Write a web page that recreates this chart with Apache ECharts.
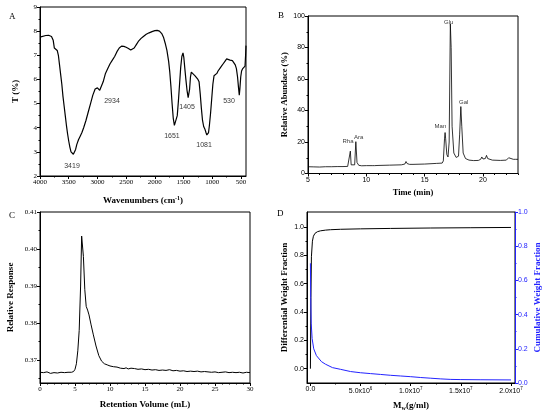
<!DOCTYPE html>
<html lang="en">
<head>
<meta charset="UTF-8">
<title>Polysaccharide characterisation</title>
<style>
  html, body { margin: 0; padding: 0; background: #fff; }
  #main { width: 550px; height: 417px; }
</style>
</head>
<body>
<div id="main"></div>
<script src="https://cdn.jsdelivr.net/npm/echarts@6/dist/echarts.min.js"></script>
<script>
// ---- A: FT-IR spectrum (wavenumber, T%)
let irData = [
  [4000,7.75],[3980,7.8],[3900,7.82],[3850,7.83],[3800,7.78],[3770,7.62],[3750,7.3],[3720,7.25],[3700,7.2],
  [3680,7.0],[3660,6.6],[3640,6.2],[3620,5.8],[3600,5.3],[3580,4.9],[3560,4.5],[3540,4.1],[3520,3.75],
  [3500,3.45],[3480,3.2],[3460,3.0],[3440,2.92],[3419,2.9],[3400,2.95],[3380,3.1],[3360,3.3],[3330,3.5],
  [3300,3.65],[3270,3.8],[3240,4.0],[3200,4.3],[3160,4.65],[3120,5.0],[3080,5.35],[3040,5.6],[3000,5.65],
  [2960,5.55],[2934,5.58],[2900,5.9],[2860,6.25],[2820,6.45],[2780,6.65],[2740,6.8],[2700,6.95],[2660,7.15],
  [2620,7.3],[2580,7.38],[2540,7.37],[2500,7.33],[2460,7.28],[2420,7.22],[2390,7.22],[2360,7.3],[2320,7.45],
  [2280,7.6],[2240,7.7],[2200,7.78],[2150,7.87],[2100,7.93],[2050,7.98],[2000,8.02],[1960,8.03],[1920,8.0],
  [1880,7.9],[1850,7.75],[1820,7.5],[1790,7.2],[1760,6.75],[1740,6.3],[1720,5.7],[1700,5.0],[1680,4.4],
  [1660,4.1],[1651,4.05],[1630,4.15],[1610,4.5],[1590,5.1],[1570,5.8],[1550,6.5],[1530,6.95],[1510,7.1],
  [1495,6.9],[1480,6.5],[1460,6.0],[1440,5.55],[1420,5.25],[1405,5.2],[1395,5.6],[1380,6.1],[1365,6.3],
  [1340,6.25],[1300,6.15],[1270,6.1],[1250,6.0],[1230,5.9],[1210,5.4],[1190,4.8],[1170,4.3],[1150,4.05],
  [1130,3.95],[1110,3.8],[1095,3.7],[1081,3.65],[1065,3.8],[1050,4.1],[1030,4.6],[1010,5.2],[990,5.8],
  [970,6.15],[950,6.22],[920,6.25],[900,6.35],[870,6.45],[840,6.55],[810,6.65],[780,6.75],[750,6.85],
  [720,6.82],[690,6.8],[650,6.78],[620,6.72],[600,6.6],[580,6.45],[560,6.1],[545,5.7],[530,5.35],
  [520,5.6],[505,6.1],[490,6.35],[470,6.45],[450,6.5],[430,6.55],[420,7.0],[413,7.4]
];
let irLabels = [[3443,2.41,'3419'],[2746,5.1,'2934'],[1702,3.66,'1651'],[1440,4.86,'1405'],[1144,3.28,'1081'],[709,5.1,'530']];
let irXTicks = [4000,3500,3000,2500,2000,1500,1000,500];
let irXMinor = [3750,3250,2750,2250,1750,1250,750];
let irYTicks = [2,3,4,5,6,7,8,9];
let irYMinor = [2.5,3.5,4.5,5.5,6.5,7.5,8.5];

// ---- B: GC chromatogram (time min, relative abundance %)
let gcData = [
  [5,4.3],[5.5,4.2],[6,4.1],[6.5,4.3],[7,4.3],[7.5,4.4],[8,4.4],[8.4,4.5],[8.55,5],[8.63,14.2],[8.7,5.5],
  [8.8,4.8],[9.0,5.5],[9.1,20.2],[9.2,7],[9.35,5.2],[9.6,4.9],[10,5.0],[10.5,5.0],[10.6,5.8],[10.7,5.0],
  [11,5.1],[12,5.3],[13,5.5],[13.3,6.0],[13.4,7.6],[13.5,6.3],[13.7,5.8],[14,5.8],[15,6.0],[16,6.4],
  [16.5,6.6],[16.6,8],[16.7,22],[16.75,26],[16.8,22],[16.9,12],[17.0,10.5],[17.1,20],[17.2,95],[17.27,80],
  [17.35,30],[17.5,13],[17.7,10.2],[17.9,11],[18.0,25],[18.1,42.5],[18.18,30],[18.3,13],[18.5,9.5],
  [18.8,8.5],[19.2,8.2],[19.6,8.3],[19.8,9],[19.9,10.5],[20.0,9.2],[20.2,9.5],[20.3,11.5],[20.4,9.5],
  [20.8,8.5],[21.5,8.3],[22,8.5],[22.2,10],[22.3,9.0],[22.6,9.0],[22.7,9.8],[22.8,9.0],[23,9.0]
];
let gcLabels = [[8.43,20.5,'Rha'],[9.35,23.2,'Ara'],[16.35,30,'Man'],[17.06,95.7,'Glu'],[18.34,45,'Gal']];
let gcXTicks = [5,10,15,20];
let gcXMinor = [6,7,8,9,11,12,13,14,16,17,18,19,21,22,23];
let gcYTicks = [0,20,40,60,80,100];
let gcYMinor = [10,30,50,70,90];

// ---- C: HPGPC (retention volume mL, relative response)
let gpcData = [
  [0,0.3667],[0.5,0.3666],[1,0.3668],[1.5,0.3664],[2,0.3666],[2.5,0.3665],[3,0.3667],[3.5,0.3666],[4,0.3667],
  [4.5,0.3667],[4.8,0.3669],[5.0,0.3675],[5.2,0.369],[5.4,0.3725],[5.6,0.378],[5.8,0.390],[5.95,0.4035],
  [6.05,0.4038],[6.2,0.398],[6.4,0.389],[6.6,0.3845],[6.8,0.3835],[7.0,0.3822],[7.3,0.3795],[7.6,0.377],
  [8.0,0.3738],[8.4,0.3712],[8.8,0.3697],[9.2,0.369],[9.6,0.3687],[10,0.3684],[10.5,0.3682],[11,0.3681],
  [11.5,0.3678],[12,0.3677],[12.3,0.3679],[12.6,0.3676],[13,0.3678],[13.5,0.3677],[14,0.3675],[14.5,0.3676],
  [15,0.3674],[15.5,0.3675],[16,0.3673],[16.5,0.3674],[17,0.3672],[17.5,0.3673],[18,0.3672],[18.5,0.3674],
  [19,0.3671],[19.5,0.3672],[20,0.367],[20.5,0.3671],[21,0.3669],[21.5,0.367],[22,0.3669],[22.5,0.367],
  [23,0.3668],[23.5,0.3669],[24,0.3668],[24.5,0.3667],[25,0.3668],[25.5,0.3666],[26,0.3667],[26.5,0.3668],
  [27,0.3666],[27.5,0.3667],[28,0.3666],[28.5,0.3667],[29,0.3665],[29.5,0.3667],[30,0.3666]
];
let gpcXTicks = [0,5,10,15,20,25,30];
let gpcXMinor = [1,2,3,4,6,7,8,9,11,12,13,14,16,17,18,19,21,22,23,24,26,27,28,29];
let gpcYTicks = [0.37,0.38,0.39,0.40,0.41];
let gpcYMinor = [0.365,0.375,0.385,0.395,0.405];

// ---- D: molecular weight distribution
let diffData = [
  [0,0],[0.05e6,0.5],[0.1e6,0.79],[0.2e6,0.9],[0.3e6,0.935],[0.45e6,0.955],[0.7e6,0.967],[1.0e6,0.973],
  [1.5e6,0.978],[2e6,0.981],[3e6,0.984],[5e6,0.987],[8e6,0.99],[1.2e7,0.993],[1.6e7,0.995],[2e7,0.997]
];
let cumData = [
  [0,0.70],[0.03e6,0.5],[0.08e6,0.35],[0.17e6,0.26],[0.33e6,0.2],[0.6e6,0.16],[1.1e6,0.125],[1.5e6,0.11],
  [2.2e6,0.09],[3e6,0.08],[4e6,0.067],[5e6,0.06],[6e6,0.055],[7e6,0.05],[8e6,0.045],[9e6,0.041],
  [1e7,0.037],[1.1e7,0.032],[1.2e7,0.028],[1.3e7,0.024],[1.4e7,0.021],[1.5e7,0.02],[1.7e7,0.019],[2e7,0.018]
];
let mwXTicks = [0,5e6,1e7,1.5e7,2e7];
let mwXMinor = [2.5e6,7.5e6,1.25e7,1.75e7];
let mwYTicks = [0,0.2,0.4,0.6,0.8,1.0];
let mwYMinor = [0.1,0.3,0.5,0.7,0.9];

const SERIF = 'Liberation Serif';
const SANS = 'Liberation Sans';
const BLUE = '#2323ff';

function mainAxis(grid, min, max, majors, font, fmt, color) {
  return {
    type: 'value', gridIndex: grid, min: min, max: max,
    axisLine: {show: true, onZero: false, lineStyle: {color: color || '#000', width: 1}},
    axisTick: {show: true, length: 3, customValues: majors, lineStyle: {color: color || '#000'}},
    axisLabel: {customValues: majors, fontFamily: font, fontSize: 7, color: color || '#000', margin: 3,
      formatter: fmt || (v => String(v))},
    splitLine: {show: false}
  };
}
function minorAxis(grid, min, max, minors, pos, color) {
  return {
    type: 'value', gridIndex: grid, min: min, max: max, position: pos,
    axisLine: {show: false, onZero: false}, axisLabel: {show: false}, splitLine: {show: false},
    axisTick: {show: true, length: 1.5, customValues: minors, lineStyle: {color: color || '#000'}}
  };
}
const nameStyle = {fontFamily: SERIF, fontWeight: 'bold', fontSize: 9, color: '#000'};

let xA = Object.assign(mainAxis(0, 413, 4000, irXTicks, SERIF), {
  inverse: true, position: 'bottom', nameLocation: 'middle', nameGap: 19,
  name: 'Wavenumbers (cm{s|-1})',
  nameTextStyle: Object.assign({}, nameStyle, {rich: {s: {fontFamily: SERIF, fontWeight: 'bold', fontSize: 6, verticalAlign: 'top', padding: [0, 0, 5, 0]}}})
});
let xAm = Object.assign(minorAxis(0, 413, 4000, irXMinor, 'bottom'), {inverse: true});
let yA = Object.assign(mainAxis(0, 2, 9, irYTicks, SERIF), {
  position: 'left', name: 'T (%)', nameLocation: 'middle', nameGap: 20, nameRotate: 90, nameTextStyle: nameStyle
});
let yAm = minorAxis(0, 2, 9, irYMinor, 'left');

let xB = Object.assign(mainAxis(1, 5, 23, gcXTicks, SANS), {
  position: 'bottom', name: 'Time (min)', nameLocation: 'middle', nameGap: 15,
  nameTextStyle: Object.assign({}, nameStyle, {fontSize: 8.5})
});
let xBm = minorAxis(1, 5, 23, gcXMinor, 'bottom');
let yB = Object.assign(mainAxis(1, 0, 100, gcYTicks, SANS), {
  position: 'left', name: 'Relative Abundace (%)', nameLocation: 'middle', nameGap: 19, nameRotate: 90,
  nameTextStyle: Object.assign({}, nameStyle, {fontSize: 8.5})
});
let yBm = minorAxis(1, 0, 100, gcYMinor, 'left');

let xC = Object.assign(mainAxis(2, 0, 30, gpcXTicks, SERIF), {
  position: 'bottom', name: 'Retention Volume (mL)', nameLocation: 'middle', nameGap: 17, nameTextStyle: nameStyle
});
let xCm = minorAxis(2, 0, 30, gpcXMinor, 'bottom');
let yC = Object.assign(mainAxis(2, 0.3638, 0.41, gpcYTicks, SERIF, v => v.toFixed(2)), {
  position: 'left', name: 'Relative Response', nameLocation: 'middle', nameGap: 25, nameRotate: 90, nameTextStyle: nameStyle
});
let yCm = minorAxis(2, 0.3638, 0.41, gpcYMinor, 'left');

function sciFmt(v) {
  if (v === 0) return '0.0';
  let e = Math.floor(Math.log10(v) + 1e-9);
  return (v / Math.pow(10, e)).toFixed(1) + 'x10{s|' + e + '}';
}
let xD = Object.assign(mainAxis(3, -0.34e6, 2.04e7, mwXTicks, SANS, sciFmt), {
  position: 'bottom', name: 'M{sub|w}(g/ml)', nameLocation: 'middle', nameGap: 18,
  nameTextStyle: Object.assign({}, nameStyle, {rich: {sub: {fontFamily: SERIF, fontWeight: 'bold', fontSize: 6, verticalAlign: 'bottom', padding: [4, 0, 0, 0]}}})
});
xD.axisLabel.rich = {s: {fontFamily: SANS, fontSize: 4.5, verticalAlign: 'top', padding: [0, 0, 5, 0]}};
let xDm = minorAxis(3, -0.34e6, 2.04e7, mwXMinor, 'bottom');
let yD = Object.assign(mainAxis(3, -0.101, 1.106, mwYTicks, SANS, v => v.toFixed(1)), {
  position: 'left', name: 'Differential Weight Fraction', nameLocation: 'middle', nameGap: 18, nameRotate: 90, nameTextStyle: nameStyle
});
let yDm = minorAxis(3, -0.101, 1.106, mwYMinor, 'left');
let yD2 = Object.assign(mainAxis(3, 0, 1.0, mwYTicks, SANS, v => v.toFixed(1), BLUE), {
  position: 'right', name: 'Cumulative Weight Fraction', nameLocation: 'middle', nameGap: 18, nameRotate: 90,
  nameTextStyle: Object.assign({}, nameStyle, {color: BLUE})
});
let yD2m = minorAxis(3, 0, 1.0, mwYMinor, 'right', BLUE);

function lineSeries(data, xi, yi, color, width) {
  return {type: 'line', data: data, xAxisIndex: xi, yAxisIndex: yi, showSymbol: false, symbol: 'none',
    lineStyle: {color: color, width: width}, animation: false, silent: true};
}
function labelSeries(data, xi, yi, size) {
  return {type: 'scatter', data: data, xAxisIndex: xi, yAxisIndex: yi, symbolSize: 0, silent: true, animation: false,
    label: {show: true, position: 'inside', formatter: p => p.data[2], fontFamily: SANS, fontSize: size, color: '#000'}};
}

let chart = echarts.init(document.getElementById('main'), null, {renderer: 'canvas'});
chart.setOption({
  backgroundColor: '#fff',
  animation: false,
  grid: [
    {left: 40, top: 7, width: 206, height: 169, show: true, borderColor: '#000', borderWidth: 1},
    {left: 308, top: 16, width: 210, height: 157.5, show: true, borderColor: '#000', borderWidth: 1},
    {left: 40, top: 212, width: 210, height: 171, show: true, borderColor: '#000', borderWidth: 1},
    {left: 307, top: 212, width: 208, height: 171, show: true, borderColor: '#000', borderWidth: 1}
  ],
  xAxis: [xA, xAm, xB, xBm, xC, xCm, xD, xDm],
  yAxis: [yA, yAm, yB, yBm, yC, yCm, yD, yDm, yD2, yD2m],
  graphic: [
    {type: 'text', left: 9, top: 12, style: {text: 'A', font: '9px "Liberation Serif"', fill: '#000'}},
    {type: 'text', left: 278, top: 11, style: {text: 'B', font: '9px "Liberation Serif"', fill: '#000'}},
    {type: 'text', left: 9, top: 211, style: {text: 'C', font: '9px "Liberation Serif"', fill: '#000'}},
    {type: 'text', left: 277, top: 209, style: {text: 'D', font: '9px "Liberation Serif"', fill: '#000'}}
  ],
  series: [
    lineSeries(irData, 0, 0, '#000', 1.2),
    labelSeries(irLabels, 0, 0, 7),
    lineSeries(gcData, 2, 2, '#000', 0.8),
    labelSeries(gcLabels, 2, 2, 6),
    lineSeries(gpcData, 4, 4, '#000', 1),
    lineSeries(diffData, 6, 6, '#000', 1),
    lineSeries(cumData, 6, 8, BLUE, 1)
  ]
});
</script>
</body>
</html>
